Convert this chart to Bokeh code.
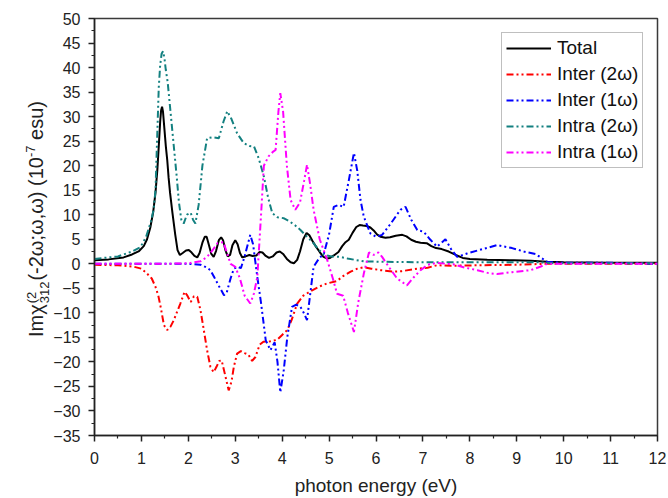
from bokeh.plotting import figure
from bokeh.layouts import row
from bokeh.models import Range1d, FixedTicker, Legend, LegendItem, Div
from bokeh.embed import file_html
from bokeh.resources import INLINE

# ---------------- data ----------------
x_ticks = list(range(0, 13))
y_ticks = list(range(-35, 51, 5))

total_x = [0, 0.3, 0.62, 0.8, 0.95, 1.05, 1.12, 1.19, 1.25, 1.30, 1.34, 1.37, 1.40, 1.42, 1.44, 1.46,
           1.49, 1.52, 1.55, 1.58, 1.61, 1.66, 1.72, 1.77, 1.82, 1.88, 1.95, 2.01, 2.07, 2.13, 2.19, 2.24,
           2.30, 2.35, 2.39, 2.44, 2.49, 2.54, 2.59, 2.65, 2.70, 2.74, 2.79, 2.84, 2.89, 2.94, 3.00, 3.05,
           3.10, 3.15, 3.22, 3.30, 3.37, 3.45, 3.52, 3.58, 3.65, 3.72, 3.80, 3.88, 3.95, 4.02, 4.10, 4.18,
           4.25, 4.32, 4.38, 4.45, 4.52, 4.58, 4.65, 4.72, 4.80, 4.88, 4.95, 5.02, 5.10, 5.20, 5.28, 5.35,
           5.42, 5.50, 5.58, 5.65, 5.72, 5.80, 5.88, 5.95, 6.02, 6.10, 6.20, 6.30, 6.42, 6.56, 6.65, 6.75,
           6.85, 6.95, 7.08, 7.18, 7.28, 7.40, 7.55, 7.70, 7.85, 8.00, 8.37, 8.94, 9.30, 9.65, 10.0, 11.0,
           12.0]
total_y = [0.7, 0.9, 1.3, 1.9, 2.6, 3.6, 5.0, 7.4, 10.5, 14.5, 19.2, 24.0, 29.0, 31.3, 32.0, 31.0,
           27.5, 24.0, 21.2, 17.5, 14.5, 10.5, 6.0, 2.8, 1.8, 2.2, 2.7, 2.8, 2.3, 1.6, 1.3, 2.2,
           4.3, 5.5, 5.5, 3.8, 2.0, 1.4, 2.6, 4.8, 5.4, 4.8, 2.8, 1.5, 1.8, 3.8, 4.8, 4.0,
           2.2, 1.3, 1.5, 1.8, 1.6, 1.7, 2.4, 2.3, 1.6, 1.2, 1.5, 2.3, 2.5, 2.0, 1.0, 0.3,
           0.1, 0.8, 2.5, 5.0, 6.3, 5.8, 4.6, 3.5, 2.4, 1.4, 1.1, 1.2, 1.7, 2.4, 3.6, 4.4,
           4.9, 6.3, 7.5, 7.9, 7.8, 7.7, 7.4, 6.8, 6.0, 5.5, 5.3, 5.4, 5.7, 5.9, 5.6, 4.9,
           4.5, 4.3, 4.2, 3.6, 3.2, 3.0, 2.5, 1.8, 1.2, 1.0, 0.8, 0.7, 0.6, 0.4, 0.3, 0.2,
           0.2]

inter2_x = [0, 0.5, 0.84, 1.0, 1.12, 1.22, 1.30, 1.36, 1.41, 1.48, 1.55, 1.62, 1.69, 1.76, 1.83, 1.92,
            1.98, 2.05, 2.12, 2.19, 2.26, 2.33, 2.40, 2.47, 2.54, 2.60, 2.66, 2.71, 2.78, 2.86, 2.92, 2.97,
            3.04, 3.12, 3.20, 3.28, 3.36, 3.43, 3.52, 3.60, 3.75, 3.89, 4.00, 4.11, 4.20, 4.32, 4.45, 4.64,
            4.80, 4.96, 5.17, 5.30, 5.46, 5.60, 5.74, 5.90, 6.10, 6.38, 6.55, 6.88, 7.10, 7.30, 7.60, 8.20,
            9.00, 9.60, 10.0, 12.0]
inter2_y = [-0.2, -0.3, -0.6, -1.0, -2.0, -3.0, -4.7, -6.5, -8.8, -12.5, -13.5, -12.8, -11.5, -9.8, -8.1, -5.7,
            -6.5, -7.8, -6.6, -6.7, -9.5, -13.5, -17.6, -21.0, -22.1, -21.0, -19.8, -19.7, -22.5, -25.8, -24.0, -21.0,
            -18.3, -17.8, -18.2, -18.5, -19.8, -19.0, -16.5, -15.9, -15.8, -15.5, -14.5, -13.5, -11.5, -8.1, -6.5, -5.4,
            -4.6, -4.0, -3.5, -2.5, -1.6, -1.0, -0.7, -1.0, -1.3, -1.6, -1.5, -1.0, -0.8, -0.3, -0.4, -0.3,
            -0.2, 0.0, 0.0, 0.0]

inter1_x = [0, 1.0, 2.0, 2.26, 2.40, 2.47, 2.55, 2.65, 2.76, 2.82, 2.90, 2.97, 3.05, 3.12, 3.20, 3.32,
            3.38, 3.47, 3.55, 3.65, 3.75, 3.84, 3.90, 3.96, 4.03, 4.11, 4.21, 4.30, 4.39, 4.46, 4.53, 4.60,
            4.67, 4.78, 4.89, 5.00, 5.10, 5.20, 5.31, 5.42, 5.53, 5.60, 5.67, 5.74, 5.88, 6.00, 6.13, 6.30,
            6.52, 6.63, 6.75, 6.88, 7.02, 7.15, 7.30, 7.48, 7.60, 7.73, 7.94, 8.20, 8.58, 8.90, 9.15, 9.40,
            9.65, 10.0, 11.0, 12.0]
inter1_y = [0.0, 0.0, 0.0, -0.2, -0.8, -1.3, -2.7, -4.5, -6.4, -5.8, -3.0, -1.0, -0.6, -0.9, 1.5, 5.9,
            4.0, -2.7, -8.0, -15.6, -17.6, -16.0, -20.0, -26.2, -22.0, -14.9, -8.8, -8.3, -8.8, -10.0, -11.5, -6.0,
            -0.6, 1.0, 2.1, 6.0, 11.6, 12.0, 11.6, 17.0, 22.6, 19.0, 13.0, 9.6, 6.2, 5.5, 5.9, 8.0,
            11.0, 11.6, 9.0, 6.9, 6.5, 5.0, 3.5, 5.0, 3.0, 1.4, 2.1, 2.8, 3.8, 3.2, 2.5, 2.0,
            0.4, 0.2, 0.2, 0.0]

intra2_x = [0, 0.5, 0.8, 0.98, 1.10, 1.20, 1.26, 1.30, 1.34, 1.37, 1.40, 1.43, 1.46, 1.49, 1.52, 1.56,
            1.60, 1.65, 1.70, 1.75, 1.80, 1.85, 1.90, 1.97, 2.05, 2.10, 2.15, 2.22, 2.30, 2.40, 2.52, 2.65,
            2.75, 2.83, 2.92, 3.04, 3.18, 3.30, 3.40, 3.50, 3.61, 3.70, 3.79, 3.90, 4.03, 4.15, 4.28, 4.39,
            4.50, 4.64, 4.77, 4.89, 5.05, 5.24, 5.39, 5.55, 5.74, 6.17, 7.0, 9.5, 9.8, 12.0]
intra2_y = [1.0, 1.5, 2.5, 3.4, 5.5, 8.5, 11.0, 15.0, 27.0, 36.0, 40.5, 42.8, 43.3, 42.0, 39.5, 37.0,
            33.0, 28.0, 23.0, 18.0, 12.5, 9.0, 8.2, 10.0, 10.4, 9.0, 8.2, 12.0, 20.0, 25.6, 25.8, 25.6,
            29.0, 31.1, 29.5, 26.6, 24.6, 24.0, 23.9, 21.5, 17.8, 13.5, 10.3, 9.5, 9.3, 8.7, 7.8, 6.9,
            5.8, 4.5, 3.0, 1.8, 1.5, 1.4, 1.1, 0.8, 0.5, 0.4, 0.3, 0.3, 0.1, 0.1]

intra1_x = [0, 1.5, 2.0, 2.26, 2.40, 2.52, 2.62, 2.75, 2.83, 2.90, 3.00, 3.10, 3.20, 3.32, 3.40, 3.47,
            3.55, 3.61, 3.71, 3.80, 3.86, 3.92, 3.96, 4.02, 4.10, 4.18, 4.28, 4.38, 4.47, 4.53, 4.60, 4.67,
            4.80, 4.96, 5.08, 5.17, 5.30, 5.40, 5.53, 5.62, 5.74, 5.85, 5.95, 6.05, 6.13, 6.30, 6.45, 6.66,
            6.80, 6.95, 7.10, 7.30, 7.50, 7.65, 7.90, 8.16, 8.40, 8.58, 8.90, 9.29, 9.50, 9.65, 10.0, 12.0]
intra1_y = [0.0, 0.0, 0.1, 0.5, 1.4, 2.8, 4.2, 4.4, 2.0, 0.0, -0.6, -3.0, -6.5, -8.1, -6.0, -2.7,
            10.0, 20.0, 21.9, 22.8, 23.2, 31.0, 34.8, 31.0, 20.0, 13.0, 11.0, 12.5, 17.0, 20.2, 16.0, 11.0,
            5.0, 0.8, -3.0, -6.1, -6.5, -10.0, -13.9, -8.0, -2.0, 2.3, 1.8, 2.3, 1.4, -1.0, -3.0, -4.4,
            -2.8, -1.3, -0.2, 0.2, 0.0, -0.1, -0.8, -1.3, -1.9, -2.1, -1.7, -1.3, -0.6, 0.0, 0.0, 0.0]

series_labels = ["Total", "Inter (2\u03c9)", "Inter (1\u03c9)", "Intra (2\u03c9)", "Intra (1\u03c9)"]

# ---------------- layout ----------------
FONT = "Liberation Sans"
W, H = 666, 498
TITLE_W = 50          # narrow panel that carries the y-axis title

ytitle_html = (
    '<div style="position:relative;width:%dpx;height:%dpx;">'
    '<div style="position:absolute;left:38px;top:219px;'
    'transform:translate(-50%%,-50%%) rotate(-90deg);white-space:nowrap;'
    "font-family:'Liberation Sans',Arial,sans-serif;font-size:20px;line-height:22px;color:#222222;\">"
    'Im\u03c7<span style="display:inline-block;vertical-align:-6px;font-size:13px;line-height:13px;'
    'margin-left:1px;margin-right:1px;">(2<br>312</span>'
    '(-2\u03c9;\u03c9,\u03c9) (10<span style="font-size:13px;position:relative;top:-8px;">-7</span> esu)'
    '</div></div>'
) % (TITLE_W, H)
ytitle = Div(text=ytitle_html, width=TITLE_W, height=H, margin=0)

p = figure(width=W - TITLE_W, height=H, output_backend="svg", toolbar_location=None,
           x_range=Range1d(0, 12), y_range=Range1d(-35, 50),
           min_border_left=94 - TITLE_W, min_border_right=9, min_border_top=18, min_border_bottom=63)
p.xgrid.visible = False
p.ygrid.visible = False
p.background_fill_color = "white"
p.border_fill_color = "white"
p.outline_line_color = "#3a3a3a"
p.outline_line_width = 1.5

p.xaxis.ticker = FixedTicker(ticks=x_ticks, minor_ticks=[t + 0.5 for t in x_ticks[:-1]])
p.yaxis.ticker = FixedTicker(ticks=y_ticks, minor_ticks=[t + 2.5 for t in y_ticks[:-1]])
for ax in (p.xaxis, p.yaxis):
    ax.axis_line_color = "#222222"
    ax.axis_line_width = 1.5
    ax.major_tick_line_color = "#222222"
    ax.major_tick_line_width = 1.5
    ax.minor_tick_line_color = "#222222"
    ax.minor_tick_line_width = 1.2
    ax.major_tick_in = 0
    ax.major_tick_out = 6
    ax.minor_tick_in = 0
    ax.minor_tick_out = 3
    ax.major_label_text_font = FONT
    ax.major_label_text_font_size = "16px"
    ax.major_label_text_color = "#222222"
p.xaxis.major_label_standoff = 10
p.yaxis.major_label_standoff = 8
p.yaxis.axis_label = None
p.xaxis.axis_label = "photon energy (eV)"
p.xaxis.axis_label_text_font = FONT
p.xaxis.axis_label_text_font_size = "19px"
p.xaxis.axis_label_text_font_style = "normal"
p.xaxis.axis_label_text_color = "#222222"
p.xaxis.axis_label_standoff = 8

dash = "7 3 2 3 2 3"
r_total = p.line(total_x, total_y, line_color="black", line_width=2)
r_inter2 = p.line(inter2_x, inter2_y, line_color="#ff0000", line_width=2, line_dash=dash)
r_inter1 = p.line(inter1_x, inter1_y, line_color="#0000ff", line_width=2, line_dash=dash)
r_intra2 = p.line(intra2_x, intra2_y, line_color="#138080", line_width=2, line_dash=dash)
r_intra1 = p.line(intra1_x, intra1_y, line_color="#ff00ff", line_width=2, line_dash=dash)

legend = Legend(items=[LegendItem(label=lab, renderers=[r]) for lab, r in
                       zip(series_labels, [r_total, r_inter2, r_inter1, r_intra2, r_intra1])],
                location=(407, 267), padding=4, spacing=4, margin=0,
                glyph_width=45, glyph_height=20, label_height=20, label_standoff=6,
                label_text_font=FONT, label_text_font_size="19px", label_text_color="#111111",
                border_line_color="#808080", border_line_width=1.5, background_fill_alpha=1.0)
p.add_layout(legend)

layout = row(ytitle, p, spacing=0)
open("out.html", "w").write(file_html(layout, INLINE))
